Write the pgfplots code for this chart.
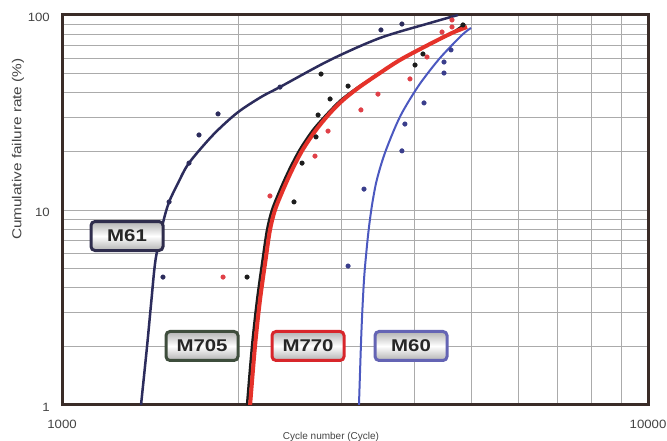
\documentclass[border=0pt]{standalone}
\usepackage{fontspec}
\setmainfont{Liberation Sans}
\newfontfamily\tickfont[FakeStretch=1.1]{Liberation Sans}
\newfontfamily\ylabfont[FakeStretch=1.18]{Liberation Sans}
\newfontfamily\boxfont[FakeStretch=1.2]{Liberation Sans Bold}
\usepackage{pgfplots}
\pgfplotsset{compat=1.18}
\definecolor{frame}{HTML}{3A2C28}
\definecolor{navy}{HTML}{2C2C5C}
\definecolor{mred}{HTML}{E5322A}
\definecolor{mblue}{HTML}{4B58C0}
\definecolor{dotblue}{HTML}{3A3E8C}
\definecolor{dotred}{HTML}{E04048}
\definecolor{dotblack}{HTML}{1C1C1C}
\definecolor{bnavy}{HTML}{2F2D4D}
\definecolor{bgreen}{HTML}{3E4D3C}
\definecolor{bred}{HTML}{D8262B}
\definecolor{bblue}{HTML}{6464B4}
\definecolor{txt}{HTML}{444444}
\definecolor{gridc}{HTML}{ABABAB}
\tikzset{lbox/.style={rounded corners=4pt, line width=3pt, minimum width=72pt, minimum height=29pt, inner sep=0pt,
  top color=gray!60, bottom color=gray!60, middle color=white, text=black!85,
  font=\boxfont\fontsize{17}{17}\selectfont}}
\begin{document}
\begin{tikzpicture}
\fill[white] (-62pt,-36pt) rectangle (605pt,405pt);
\begin{axis}[
  at={(0,0)}, anchor=south west,
  scale only axis, width=586pt, height=390pt,
  xmode=log, ymode=log,
  xmin=1000, xmax=10000, ymin=1, ymax=100,
  xtick={1000,10000}, xticklabels={1000,10000},
  ytick={1,10,100}, yticklabels={1,10,100},
  minor xtick={2000,3000,4000,5000,6000,7000,8000,9000},
  minor ytick={2,3,4,5,6,7,8,9,20,30,40,50,60,70,80,90},
  grid=both,
  major grid style={gridc, line width=0.9pt},
  minor grid style={gridc, line width=0.7pt},
  tick style={draw=none},
  axis line style={frame, line width=3pt},
  ticklabel style={font=\tickfont\fontsize{12}{14}\selectfont, text=txt, inner sep=0pt},
  yticklabel style={anchor=east, xshift=-12pt, yshift=-2pt},
  xticklabel style={anchor=north, yshift=-15pt},
  xlabel={Cycle number (Cycle)},
  xlabel style={at={(rel axis cs:0.459,0)}, anchor=north, yshift=-27pt, inner sep=0pt, text=txt, font=\fontsize{10}{12}\selectfont},
  ylabel={Cumulative failure rate (\%)},
  ylabel style={at={(rel axis cs:0,0.656)}, anchor=center, yshift=44pt, inner sep=0pt, text=txt, font=\ylabfont\fontsize{13}{14}\selectfont},
  clip mode=individual,
]
% fitted curves
\addplot[navy, line width=2.5pt, smooth, tension=0.5] coordinates {(1364,1) (1397,2.01) (1421,3.455) (1444,5.541) (1487,8.58) (1523,10.99) (1578,13.75) (1647,17.42) (1810,24.25) (1989,31.44) (2186,37.97) (2355,42.73) (2867,58.78) (3488,76.22) (4246,91.0) (4740,100)};
\addplot[dotblack, line width=2.5pt, smooth, tension=0.5] coordinates {(2069,1) (2110,2.01) (2152,3.455) (2199,5.541) (2238,7.90) (2282,10) (2355,12.67) (2440,16.04) (2543,20.31) (2681,25.72) (2844,31.44) (2993,36.65) (3187,42.23) (3447,49.24) (3773,58.78) (4213,70.17) (4629,80.87) (4872,89.9)};
\addplot[mred, line width=4pt, smooth, tension=0.5] coordinates {(2094,1) (2135,2.01) (2177,3.455) (2225,5.541) (2264,7.90) (2309,10) (2383,12.67) (2469,16.04) (2573,20.31) (2713,25.72) (2867,31.44) (3017,36.65) (3201,42.23) (3447,49.24) (3773,58.78) (4213,70.17) (4629,80.87) (4911,86.79)};
\addplot[mblue, line width=2pt, smooth, tension=0.5] coordinates {(3212,1) (3244,2.424) (3276,4.376) (3309,6.236) (3341,8.18) (3381,10.61) (3435,13.75) (3502,17.01) (3572,20.31) (3686,25.72) (3787,30.70) (3917,36.65) (4101,45.33) (4416,60.19) (4815,78.97) (4989,85.78)};
% data points
\addplot[only marks, mark=*, mark size=2.3pt, navy] coordinates {(1487,4.53) (1523,11.0) (1647,17.4) (1713,24.25) (1846,31.1) (2355,42.7) (3502,83.8) (3803,89.9)};
\addplot[only marks, mark=*, mark size=2.3pt, dotblack] coordinates {(2069,4.53) (2488,11.0) (2568,17.4) (2713,23.7) (2735,30.7) (2867,37.1) (2767,49.8) (3077,43.2) (4003,55.4) (4130,63.1) (4833,88.9)};
\addplot[only marks, mark=*, mark size=2.3pt, dotred] coordinates {(1883,4.53) (2264,11.8) (2702,18.9) (2844,25.4) (3237,32.6) (3461,39.3) (3925,47.0) (4196,60.9) (4451,81.8) (4629,94.3) (4629,86.8)};
\addplot[only marks, mark=*, mark size=2.3pt, dotblue] coordinates {(3077,5.16) (3276,12.8) (3803,20.1) (3848,27.6) (4147,35.4) (4486,50.4) (4486,57.4) (4611,66.2)};
% labels
\node[lbox, draw=bnavy] at (rel axis cs:0.1109,0.4333) {M61};
\node[lbox, draw=bgreen] at (rel axis cs:0.2389,0.1513) {M705};
\node[lbox, draw=bred] at (rel axis cs:0.4198,0.1513) {M770};
\node[lbox, draw=bblue] at (rel axis cs:0.5956,0.1513) {M60};
\end{axis}
\pgfresetboundingbox
\path[use as bounding box] (-62pt,-36pt) rectangle (605pt,405pt);
\end{tikzpicture}
\end{document}
